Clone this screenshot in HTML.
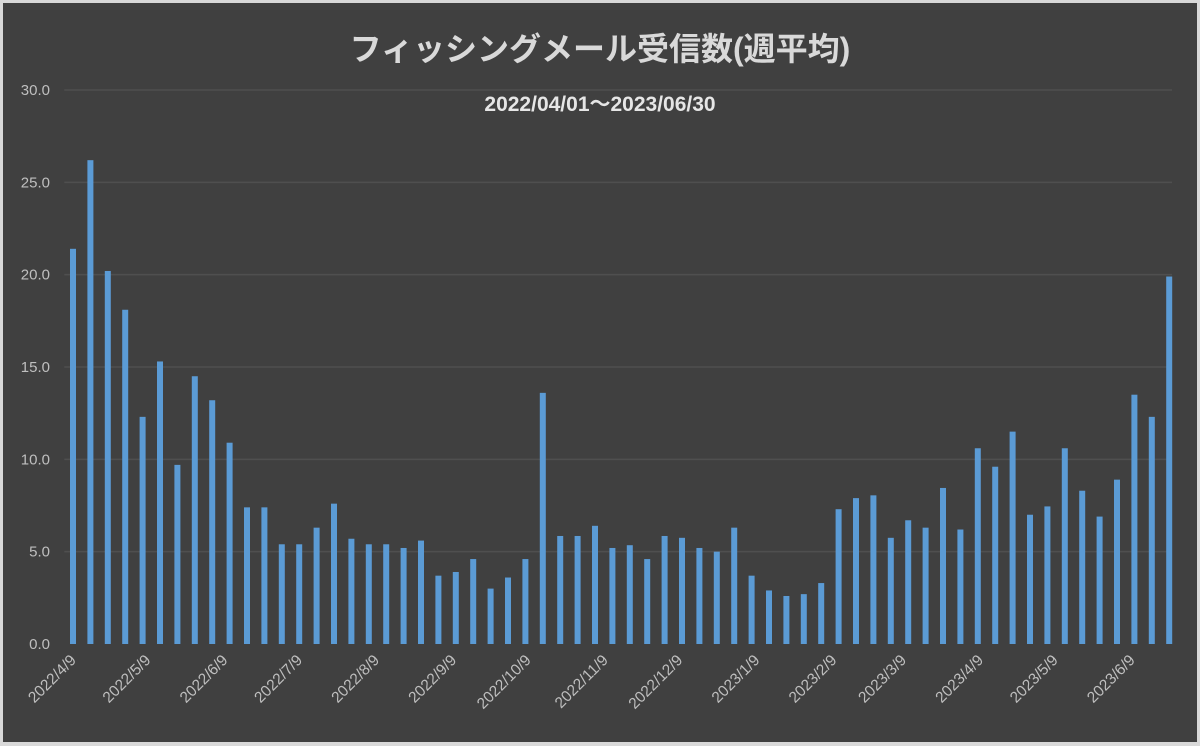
<!DOCTYPE html>
<html><head><meta charset="utf-8"><style>
html,body{margin:0;padding:0;background:#d9d9d9;}
#wrap{position:absolute;left:3px;top:3px;width:1194px;height:739px;background:#404040;}
svg{position:absolute;left:0;top:0;}
</style></head><body>
<div id="wrap"></div>
<svg id="chart" width="1200" height="746"></svg>
<script>
const categoriesStart = "2022-04-09";
const values = [21.4,26.2,20.2,18.1,12.3,15.3,9.7,14.5,13.2,10.9,7.4,7.4,5.4,5.4,6.3,7.6,5.7,5.4,5.4,5.2,5.6,3.7,3.9,4.6,3.0,3.6,4.6,13.6,5.85,5.85,6.4,5.2,5.35,4.6,5.85,5.75,5.2,5.0,6.3,3.7,2.9,2.6,2.7,3.3,7.3,7.9,8.05,5.75,6.7,6.3,8.45,6.2,10.6,9.6,11.5,7.0,7.45,10.6,8.3,6.9,8.9,13.5,12.3,19.9];
const yTicks = [0,5,10,15,20,25,30];
const xTickDates = ["2022-04-09","2022-05-09","2022-06-09","2022-07-09","2022-08-09","2022-09-09","2022-10-09","2022-11-09","2022-12-09","2023-01-09","2023-02-09","2023-03-09","2023-04-09","2023-05-09","2023-06-09"];

const NS="http://www.w3.org/2000/svg";
const svg=document.getElementById('chart');
const x0=64.3, band=17.4, yBase=644, yTop=90, yMax=30, gridRight=1172;
const yScale=v=>yBase-(yBase-yTop)*v/yMax;
const t0=Date.parse(categoriesStart+"T00:00:00Z");
const dayX=d=>x0+band/2+((Date.parse(d+"T00:00:00Z")-t0)/86400000)/7*band;
const mk=(tag,attrs)=>{const e=document.createElementNS(NS,tag);for(const k in attrs)e.setAttribute(k,attrs[k]);svg.appendChild(e);return e;};

const title=mk('text',{x:600,y:60,'text-anchor':'middle','font-size':32,'font-weight':'bold',fill:'#d9d9d9','font-family':'"Liberation Sans","Noto Sans CJK JP",sans-serif'});
title.textContent='フィッシングメール受信数(週平均)';


const sub=mk('text',{x:600,y:111,'text-anchor':'middle','font-size':21,'font-weight':'bold',fill:'#e6e6e6','font-family':'"Liberation Sans","Noto Sans CJK JP",sans-serif'});
sub.textContent='2022/04/01～2023/06/30';



yTicks.forEach(v=>{
  const y=yScale(v);
  if(v>0){const g=mk('line',{x1:x0,x2:gridRight,y1:y,y2:y,stroke:'#4f4f4f','stroke-width':1.5});
  
  }
  const t=mk('text',{x:50,y:y+5,'text-anchor':'end','font-size':15,fill:'#bfbfbf','font-family':'"Liberation Sans",sans-serif'});
  t.textContent=v.toFixed(1);
  
  
});
values.forEach((v,i)=>{
  const cx=x0+band*(i+0.5);
  const r=mk('rect',{x:cx-3,y:yScale(v),width:6,height:yBase-yScale(v),fill:'#5b9bd5'});
  
  
});
xTickDates.forEach(d=>{
  const x=dayX(d)+4, y=661;
  const p=d.split('-');
  const t=mk('text',{x:x,y:y,'text-anchor':'end','font-size':15.5,fill:'#bfbfbf','font-family':'"Liberation Sans",sans-serif',transform:`rotate(-45 ${x} ${y})`});
  t.textContent=p[0]+'/'+(+p[1])+'/'+(+p[2]);
  
  
});
</script>
</body></html>
